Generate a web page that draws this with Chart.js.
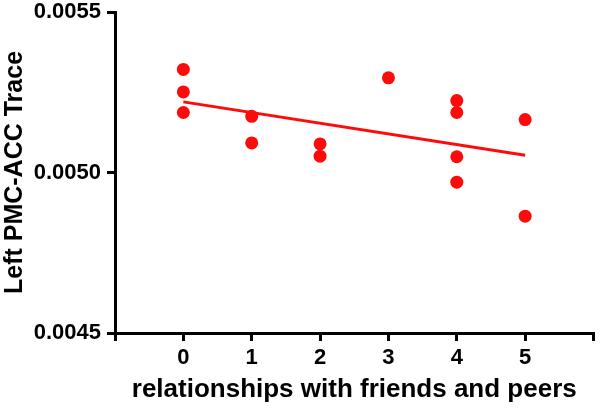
<!DOCTYPE html>
<html>
<head>
<meta charset="utf-8">
<script src="https://cdn.jsdelivr.net/npm/chart.js@4"></script>
<style>
  html,body{margin:0;padding:0;background:#fff;}
  #wrap{width:600px;height:408px;}
</style>
</head>
<body>
<div id="wrap"><canvas id="cv" width="600" height="408"></canvas></div>
<script>
/***** data *****/
const scoreX = [0, 0, 0, 1, 1, 2, 2, 3, 4, 4, 4, 4, 5, 5]; // relationships with friends and peers
const traceY = [0.005321, 0.005251, 0.005187, 0.005175, 0.005092, 0.005089, 0.005051,
                0.005295, 0.005224, 0.005187, 0.005049, 0.004970, 0.005165, 0.004864];
const fitX = [0, 5];                 // regression line ends
const fitY = [0.005220, 0.005054];
const xTicks = [-1, 0, 1, 2, 3, 4, 5, 6];
const xLabels = ["", "0", "1", "2", "3", "4", "5", ""];
const yTicks = [0.0045, 0.0050, 0.0055];

/***** util *****/
const RED = "#ff0a0a";
const FONT = "'Liberation Sans', Arial, Helvetica, sans-serif";
const toPts = (xs, ys) => xs.map((x, i) => ({ x, y: ys[i] }));

/***** chart *****/
function init(){
  const ctx = document.getElementById("cv").getContext("2d");
  new Chart(ctx, {
    type: "scatter",
    data: {
      datasets: [
        {
          data: toPts(scoreX, traceY),
          backgroundColor: RED,
          borderColor: RED,
          pointRadius: 6.5,
          pointBorderWidth: 0
        },
        {
          type: "line",
          data: toPts(fitX, fitY),
          borderColor: RED,
          borderWidth: 3,
          pointRadius: 0,
          fill: false
        }
      ]
    },
    options: {
      responsive: false,
      animation: false,
      layout: { padding: { top: 12, right: 2, left: 0, bottom: 0 } },
      plugins: { legend: { display: false }, tooltip: { enabled: false } },
      scales: {
        x: {
          type: "linear",
          min: -1, max: 6,
          afterBuildTicks: (s) => { s.ticks = xTicks.map(v => ({ value: v })); },
          afterFit: (s) => { s.height = 75; s.paddingRight = 0; },
          border: { color: "#000", width: 3 },
          grid: { drawOnChartArea: false, drawTicks: true, tickLength: 8, color: "#000", lineWidth: 3 },
          ticks: {
            color: "#000", padding: 4,
            font: { family: FONT, size: 22, weight: "bold" },
            callback: (v) => xLabels[xTicks.indexOf(v)] ?? ""
          },
          title: {
            display: true, text: "relationships with friends and peers",
            color: "#000", padding: { top: 0, bottom: 3 },
            font: { family: FONT, size: 26, weight: "bold" }
          }
        },
        y: {
          type: "linear",
          min: 0.0045, max: 0.0055,
          afterBuildTicks: (s) => { s.ticks = yTicks.map(v => ({ value: v })); },
          afterFit: (s) => { s.width = 115; s.paddingTop = 0; s.paddingBottom = 0; },
          border: { color: "#000", width: 3 },
          grid: { drawOnChartArea: false, drawTicks: true, tickLength: 8, color: "#000", lineWidth: 3 },
          ticks: {
            color: "#000", padding: 6,
            font: { family: FONT, size: 22, weight: "bold" },
            callback: (v) => Number(v).toFixed(4)
          },
          title: {
            display: true, text: "Left PMC-ACC Trace",
            color: "#000", padding: { top: 0, bottom: 0 },
            font: { family: FONT, size: 25, weight: "bold" }
          }
        }
      }
    }
  });
}
document.addEventListener("DOMContentLoaded", init);
</script>
</body>
</html>
